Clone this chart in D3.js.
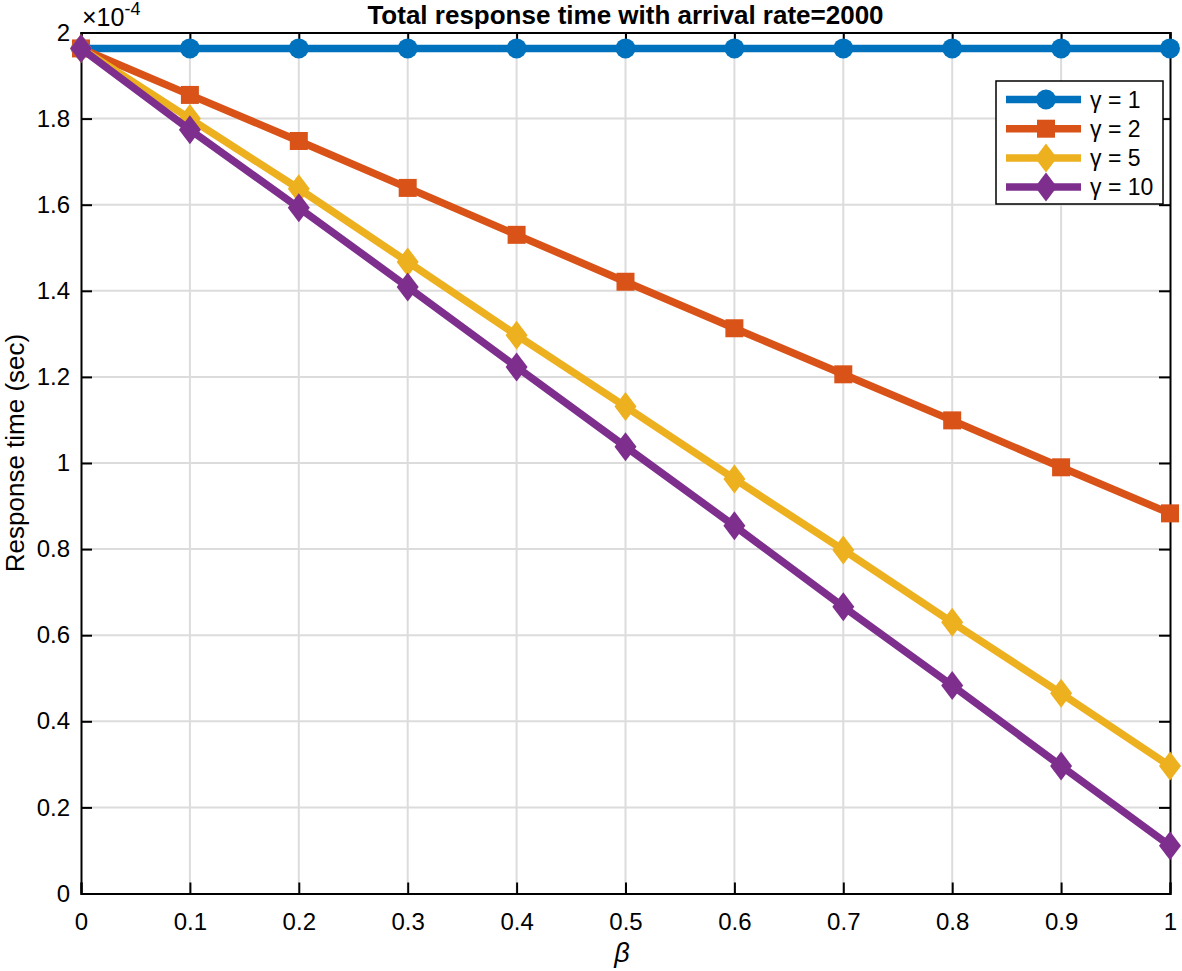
<!DOCTYPE html>
<html>
<head>
<meta charset="utf-8">
<script src="https://cdn.jsdelivr.net/npm/d3@7"></script>
<style>
body{margin:0;background:#fff;}
text{font-family:"Liberation Sans",Arial,Helvetica,sans-serif;}
</style>
</head>
<body>
<div id="chart"></div>
<script>
// response time vs beta, values in units of 1e-4 sec
var betas=[0,0.1,0.2,0.3,0.4,0.5,0.6,0.7,0.8,0.9,1];
var g1=[1.963,1.963,1.963,1.963,1.963,1.963,1.963,1.963,1.963,1.963,1.963];
var g2=[1.963,1.855,1.748,1.639,1.530,1.421,1.313,1.206,1.099,0.990,0.883];
var g5=[1.963,1.800,1.637,1.467,1.297,1.131,0.963,0.798,0.630,0.465,0.296];
var g10=[1.963,1.774,1.593,1.409,1.223,1.038,0.854,0.666,0.483,0.296,0.111];
var names=["\u03b3 = 1","\u03b3 = 2","\u03b3 = 5","\u03b3 = 10"];
var xTicks=[0,0.1,0.2,0.3,0.4,0.5,0.6,0.7,0.8,0.9,1];
var yTicks=[0,0.2,0.4,0.6,0.8,1,1.2,1.4,1.6,1.8,2];

var colors=["#0072BD","#D95319","#EDB120","#7E2F8E"];
var shapes=["circle","square","diamond","diamond"];
var series=[g1,g2,g5,g10];

var margin={top:32.5,right:12,bottom:77.5,left:81},
W=1182,H=971,
w=W-margin.left-margin.right,
h=H-margin.top-margin.bottom;

var svg=d3.select("#chart").append("svg")
.attr("width",W).attr("height",H);
var g=svg.append("g").attr("transform",`translate(${margin.left},${margin.top})`);

var x=d3.scaleLinear().domain([0,1]).range([0,w]);
var y=d3.scaleLinear().domain([0,2]).range([h,0]);

// grid
g.append("g").selectAll("line").data(xTicks.slice(1,-1)).enter().append("line")
.attr("x1",d=>x(d)).attr("x2",d=>x(d)).attr("y1",0).attr("y2",h)
.attr("stroke","#dcdcdc").attr("stroke-width",2);
g.append("g").selectAll("line").data(yTicks.slice(1,-1)).enter().append("line")
.attr("y1",d=>y(d)).attr("y2",d=>y(d)).attr("x1",0).attr("x2",w)
.attr("stroke","#dcdcdc").attr("stroke-width",2);

// axes (ticks inside, box)
var fmt=d=>d3.format("")(+d.toFixed(1));
var xa=g.append("g").attr("transform",`translate(0,${h})`)
.call(d3.axisBottom(x).tickValues(xTicks).tickSize(-11).tickPadding(19).tickFormat(fmt));
var xt=g.append("g").call(d3.axisTop(x).tickValues(xTicks).tickSize(-11).tickFormat(""));
var ya=g.append("g")
.call(d3.axisLeft(y).tickValues(yTicks).tickSize(-11).tickPadding(11).tickFormat(fmt));
var yr=g.append("g").attr("transform",`translate(${w},0)`)
.call(d3.axisRight(y).tickValues(yTicks).tickSize(-11).tickFormat(""));
[xa,xt,ya,yr].forEach(function(a){
a.attr("font-size",24).style("font-family","Liberation Sans, Arial, sans-serif");
a.select(".domain").attr("stroke","#000").attr("stroke-width",2);
a.selectAll(".tick line").attr("stroke","#000").attr("stroke-width",2);
a.selectAll(".tick text").attr("fill","#000");
});

// lines
var line=d3.line().x((d,i)=>x(betas[i])).y(d=>y(d));
function marker(sel,shape,c){
if(shape=="circle"){
sel.append("circle").attr("r",10).attr("fill",c);
}else if(shape=="square"){
sel.append("rect").attr("x",-9).attr("y",-9).attr("width",18).attr("height",18)
.attr("fill",c);
}else{
sel.append("path").attr("d","M0,-14.5L11,0L0,14.5L-11,0Z").attr("fill",c);
}
}
series.forEach(function(s,k){
var sg=g.append("g");
sg.append("path").datum(s).attr("d",line).attr("fill","none")
.attr("stroke",colors[k]).attr("stroke-width",7.5).attr("stroke-linejoin","round");
s.forEach(function(v,i){
var m=sg.append("g").attr("transform",`translate(${x(betas[i])},${y(v)})`);
marker(m,shapes[k],colors[k]);
});
});

// legend
var lg=svg.append("g").attr("transform","translate(996,81)");
lg.append("rect").attr("width",167).attr("height",123).attr("fill","#fff")
.attr("stroke","#000").attr("stroke-width",1.5);
names.forEach(function(n,k){
var yy=18.5+k*29.2;
lg.append("line").attr("x1",10).attr("x2",85).attr("y1",yy).attr("y2",yy)
.attr("stroke",colors[k]).attr("stroke-width",7.5);
var m=lg.append("g").attr("transform",`translate(50,${yy})`);
marker(m,shapes[k],colors[k]);
lg.append("text").attr("x",94).attr("y",yy+8).attr("font-size",23).text(n);
});

// title and labels
svg.append("text").attr("x",margin.left+w/2).attr("y",24).attr("text-anchor","middle")
.attr("font-size",26).attr("font-weight","bold").text("Total response time with arrival rate=2000");
var ex=svg.append("text").attr("x",82).attr("y",26).attr("font-size",25);
ex.append("tspan").text("\u00d710");
ex.append("tspan").attr("dy",-11).attr("font-size",18).text("-4");
svg.append("text").attr("transform","translate(23.5,453)rotate(-90)")
.attr("text-anchor","middle").attr("font-size",26).text("Response time (sec)");
svg.append("text").attr("x",622).attr("y",962).attr("text-anchor","middle")
.attr("font-size",27).attr("font-style","italic").text("\u03b2");
</script>
</body>
</html>
